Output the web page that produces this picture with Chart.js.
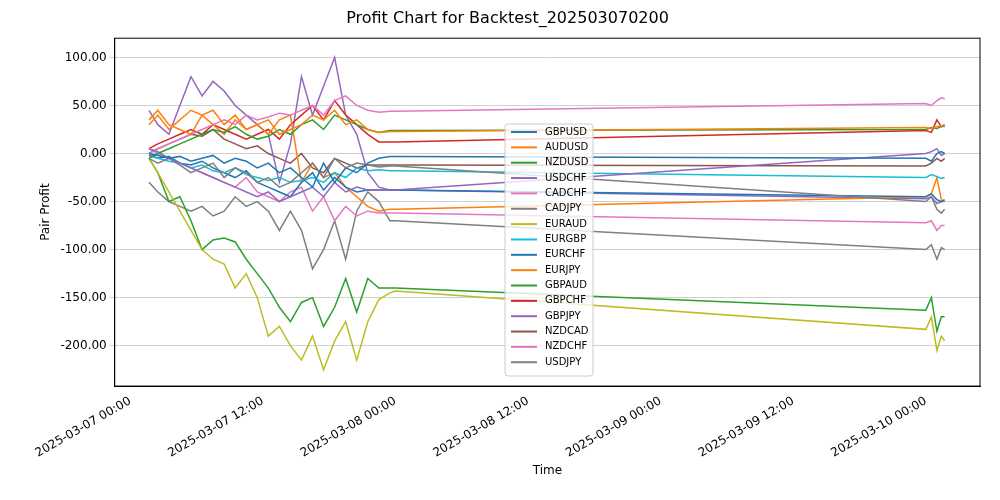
<!DOCTYPE html>
<html><head><script src="https://cdn.jsdelivr.net/npm/chart.js@4"></script>
<style>body{margin:0;background:#fff}#w{width:1000px;height:500px}</style></head>
<body><div id="w"><canvas id="c"></canvas></div>
<script>
const hours = [1.7,2.5,3.5,4.5,5.5,6.5,7.5,8.5,9.5,10.5,11.5,12.5,13.5,14.5,15.5,16.5,17.5,18.5,19.5,20.5,21.5,22.5,23.5,24,72,72.5,73,73.4,73.7];
const pairs = ["GBPUSD","AUDUSD","NZDUSD","USDCHF","CADCHF","CADJPY","EURAUD","EURGBP","EURCHF","EURJPY","GBPAUD","GBPCHF","GBPJPY","NZDCAD","NZDCHF","USDJPY"];
const colors = ["#1f77b4","#ff7f0e","#2ca02c","#9467bd","#e377c2","#7f7f7f","#bcbd22","#17becf","#1f77b4","#ff7f0e","#2ca02c","#d62728","#9467bd","#8c564b","#e377c2","#7f7f7f"];
const GBPUSD = [0,-2,-5,-3,-8,-5,-2,-10,-5,-8,-15,-10,-20,-15,-25,-35,-10,-30,-15,-20,-10,-5,-3,-3,-5,-8,0,2,0];
const AUDUSD = [35,45,30,25,20,40,45,30,40,25,30,35,20,25,30,40,35,45,30,35,25,22,23,23,27,26,28,29,28];
const NZDUSD = [-5,0,5,10,15,20,25,22,28,20,15,18,25,20,30,35,25,40,35,30,25,22,24,24,25,27,26,28,28];
const USDCHF = [5,2,-5,-10,-15,-20,-25,-30,-35,-40,-45,-40,-50,-45,-40,-35,-45,-30,-40,-35,-38,-38,-38,-38,0,2,5,-2,0];
const CADCHF = [0,5,10,15,20,25,30,35,30,40,35,38,42,40,45,50,40,55,60,50,45,43,44,44,52,50,55,58,57];
const CADJPY = [-5,-10,-5,-12,-20,-15,-10,-25,-15,-20,-30,-25,-35,-30,-20,-10,-25,-5,-15,-10,-12,-14,-13,-13,-50,-45,-58,-62,-58];
const EURAUD = [-5,-20,-40,-60,-80,-100,-110,-115,-140,-125,-150,-190,-180,-200,-215,-190,-225,-195,-175,-215,-175,-152,-145,-143,-183,-170,-205,-190,-195];
const EURGBP = [0,-5,-8,-10,-15,-12,-18,-20,-15,-22,-25,-28,-25,-30,-28,-25,-30,-20,-25,-15,-18,-17,-18,-18,-25,-22,-24,-26,-25];
const EURCHF = [-2,-5,-3,-10,-12,-8,-15,-20,-25,-18,-30,-35,-40,-45,-30,-20,-38,-25,-35,-40,-38,-38,-38,-38,-45,-42,-48,-50,-48];
const EURJPY = [30,40,25,35,45,40,30,20,35,25,30,20,35,40,-30,-10,-25,-20,-35,-45,-55,-60,-58,-58,-45,-42,-25,-48,-50];
const GBPAUD = [-5,-20,-50,-45,-70,-100,-90,-88,-92,-110,-125,-140,-160,-175,-155,-150,-180,-160,-130,-165,-130,-140,-140,-140,-163,-150,-185,-170,-170];
const GBPCHF = [5,10,15,20,25,20,30,25,20,15,20,25,15,30,40,50,35,55,40,30,20,12,12,12,24,22,35,28,30];
const GBPJPY = [45,30,20,50,80,60,75,65,50,40,30,20,-30,10,80,40,70,100,40,20,-20,-35,-38,-38,-47,-45,-52,-50,-50];
const NZDCAD = [0,5,10,15,20,18,25,15,10,5,8,0,-5,-10,0,-15,-20,-5,-10,-15,-12,-12,-12,-12,-13,-10,-5,-8,-5];
const NZDCHF = [5,0,-5,-10,-15,-20,-25,-30,-35,-25,-40,-45,-50,-40,-35,-60,-45,-70,-55,-65,-60,-62,-62,-62,-72,-70,-80,-75,-75];
const USDJPY = [-30,-40,-50,-55,-60,-55,-65,-60,-45,-55,-50,-60,-80,-60,-80,-120,-100,-70,-110,-60,-40,-50,-70,-70,-100,-95,-110,-98,-100];
const series = [GBPUSD,AUDUSD,NZDUSD,USDCHF,CADCHF,CADJPY,EURAUD,EURGBP,EURCHF,EURJPY,GBPAUD,GBPCHF,GBPJPY,NZDCAD,NZDCHF,USDJPY];
const yTicks = [-200,-150,-100,-50,0,50,100];
const xTicks = [0,12,24,36,48,60,72];
const xTickLabels = ["2025-03-07 00:00","2025-03-07 12:00","2025-03-08 00:00","2025-03-08 12:00","2025-03-09 00:00","2025-03-09 12:00","2025-03-10 00:00"];

const F = "'DejaVu Sans', sans-serif";
const datasets = pairs.map((p,i)=>({label:p,data:hours.map((h,j)=>({x:h,y:series[i][j]})),borderColor:colors[i],backgroundColor:colors[i],borderWidth:1.5,pointRadius:0,tension:0}));

const frame = {id:'frame',afterDraw(ch){
  const a=ch.chartArea,c=ch.ctx;c.save();c.strokeStyle='#000';c.lineWidth=1;c.strokeRect(a.left,a.top,a.width,a.height);
  const x0=505,y0=124,w=88,h=252;c.fillStyle='rgba(255,255,255,0.8)';c.strokeStyle='#ccc';
  c.beginPath();c.roundRect(x0,y0,w,h,3);c.fill();c.stroke();
  c.font="10px "+F;c.textBaseline='middle';
  pairs.forEach((p,i)=>{const y=y0+8+i*15.35;c.strokeStyle=colors[i];c.lineWidth=2;c.beginPath();c.moveTo(x0+6,y);c.lineTo(x0+32,y);c.stroke();c.fillStyle='#000';c.fillText(p,x0+40,y);});
  c.restore();}};

new Chart(document.getElementById('c'),{type:'line',data:{datasets},plugins:[frame],
options:{responsive:true,maintainAspectRatio:false,animation:false,
layout:{padding:{left:35,right:20,top:3,bottom:18}},
plugins:{legend:{display:false},tooltip:{enabled:false},
title:{display:true,text:'Profit Chart for Backtest_202503070200',color:'#000',font:{family:F,size:16,weight:'normal'},padding:{top:6,bottom:10}}},
scales:{
x:{type:'linear',min:-1.4,max:76.9,afterBuildTicks:s=>{s.ticks=xTicks.map(v=>({value:v}))},
 ticks:{callback:v=>xTickLabels[xTicks.indexOf(v)],maxRotation:30,minRotation:30,color:'#000',font:{family:F,size:12}},
 grid:{display:false,drawTicks:true,tickLength:5},border:{color:'#000'},
 title:{display:true,text:'Time',color:'#000',font:{family:F,size:12},padding:{top:0}}},
y:{min:-242,max:120,afterBuildTicks:s=>{s.ticks=yTicks.map(v=>({value:v}))},
 ticks:{callback:v=>v.toFixed(2),color:'#000',font:{family:F,size:12}},
 grid:{color:'#d0d0d0',borderDash:[4,3],tickLength:5},border:{color:'#000'},
 title:{display:true,text:'Pair Profit',color:'#000',font:{family:F,size:12}}}}}});
</script></body></html>
